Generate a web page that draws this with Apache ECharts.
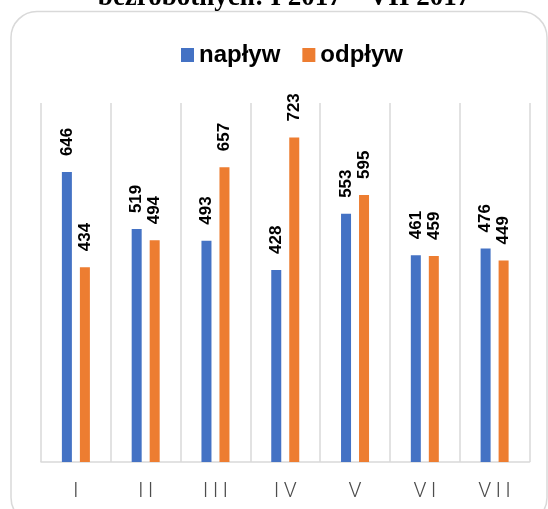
<!DOCTYPE html>
<html>
<head>
<meta charset="utf-8">
<script src="https://cdn.jsdelivr.net/npm/echarts@6/dist/echarts.min.js"></script>
<style>
  html, body { margin: 0; padding: 0; background: #fff; }
  #wrap { width: 548px; height: 509px; }
</style>
</head>
<body>
<div id="wrap"></div>
<script>
// dane: napływ / odpływ bezrobotnych, I-VII 2017
var months = ['I', 'II', 'III', 'IV', 'V', 'VI', 'VII'];
var naplyw = [646, 519, 493, 428, 553, 461, 476];
var odplyw = [434, 494, 657, 723, 595, 459, 449];
var titleText = 'bezrobotnych: I 2017 – VII 2017';

var myChart = echarts.init(document.getElementById('wrap'));

var barLabel = {
    show: true,
    position: 'top',
    rotate: 90,
    distance: 16,
    align: 'left',
    verticalAlign: 'middle',
    color: '#000',
    fontSize: 17,
    fontWeight: 'bold',
    fontFamily: 'Liberation Sans, Arial, sans-serif'
};

var option = {
    animation: false,
    backgroundColor: '#fff',
    graphic: [
        {
            type: 'rect',
            shape: { x: 11, y: 11.5, width: 536, height: 512, r: 26 },
            style: { fill: 'none', stroke: '#d9d9d9', lineWidth: 1.5 },
            z: 0
        },
        {
            type: 'text',
            x: 284,
            y: -15,
            style: {
                text: titleText,
                fill: '#000',
                font: 'bold 27px "Liberation Serif", "Times New Roman", serif',
                textAlign: 'center',
                textVerticalAlign: 'top'
            },
            z: 1
        }
    ],
    legend: {
        top: 38,
        left: 176,
        itemWidth: 13,
        itemHeight: 14,
        itemGap: 22,
        icon: 'rect',
        textStyle: {
            color: '#000',
            fontSize: 24,
            fontWeight: 'bold',
            fontFamily: 'Liberation Sans, Arial, sans-serif'
        },
        data: ['napływ', 'odpływ']
    },
    grid: {
        left: 41,
        right: 18.5,
        top: 103,
        bottom: 47
    },
    xAxis: {
        type: 'category',
        data: months,
        axisLine: { lineStyle: { color: '#d9d9d9', width: 1.5 } },
        axisTick: { show: false },
        splitLine: { show: true, lineStyle: { color: '#d9d9d9', width: 1.5 } },
        axisLabel: {
            color: '#4d4d4d',
            fontSize: 21,
            fontWeight: 300,
            fontFamily: 'Roboto, Liberation Sans, sans-serif',
            margin: 19,
            formatter: function(v) {
                return v.split('').join('\u2009');
            }
        }
    },
    yAxis: {
        type: 'value',
        min: 0,
        max: 800,
        show: false
    },
    series: [
        {
            name: 'napływ',
            type: 'bar',
            data: naplyw,
            barWidth: 10,
            barGap: '80%',
            itemStyle: { color: '#4472C4' },
            label: barLabel
        },
        {
            name: 'odpływ',
            type: 'bar',
            data: odplyw,
            barWidth: 10,
            itemStyle: { color: '#ED7D31' },
            label: barLabel
        }
    ]
};
myChart.setOption(option);
</script>
</body>
</html>
